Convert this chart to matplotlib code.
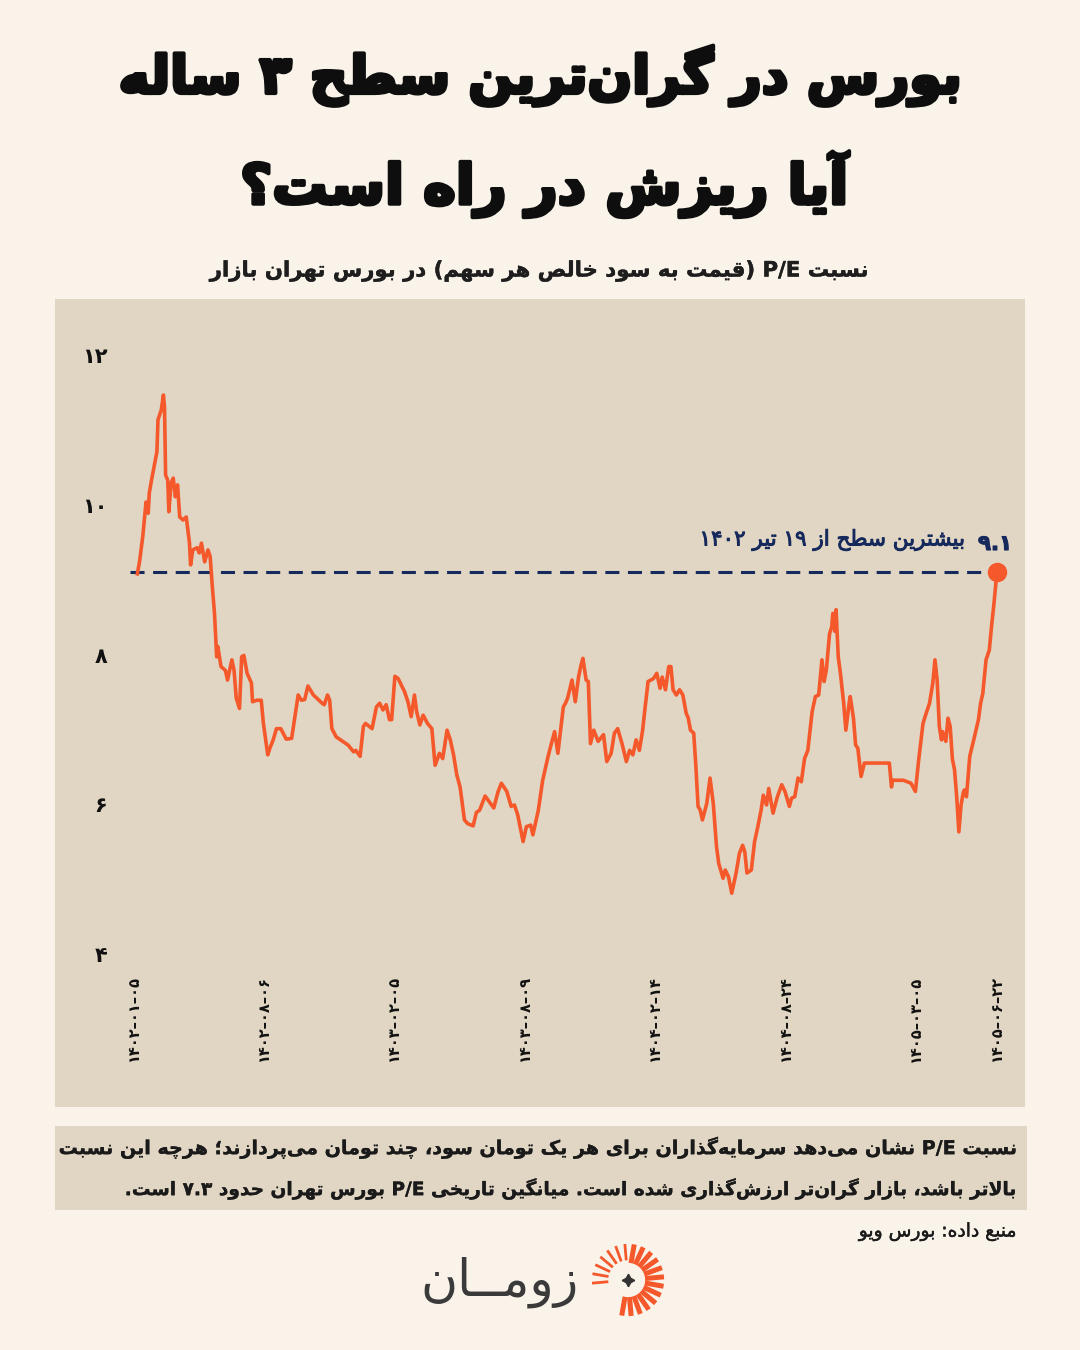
import matplotlib
matplotlib.use("Agg")
import matplotlib.pyplot as plt
import matplotlib.patheffects as pe
from matplotlib import font_manager as fm
from matplotlib.ft2font import FT2Font
from matplotlib.patches import Rectangle
import numpy as np

# ---------------- data ----------------
day = [4, 6, 9, 12, 14, 15, 17, 20, 22, 23, 26, 28, 29, 30, 32, 33, 35, 37, 39, 41,
       43, 46, 49, 52, 53, 55, 59, 61, 63, 66, 69, 71, 73, 75, 77, 78, 81, 85, 87, 91,
       93, 95, 98, 100, 102, 105, 109, 110, 114, 118, 120, 124, 126, 129, 132, 136, 141, 146, 152, 155,
       158, 161, 166, 169, 174, 176, 179, 181, 183, 187, 191, 195, 198, 203, 205, 209, 212, 214, 220, 224,
       227, 230, 233, 236, 238, 241, 244, 247, 250, 253, 256, 259, 261, 264, 267, 271, 275, 278, 282, 285,
       289, 292, 295, 298, 301, 305, 308, 313, 316, 319, 324, 328, 332, 336, 339, 344, 348, 351, 354, 359,
       362, 366, 368, 373, 377, 382, 385, 388, 391, 396, 398, 400, 404, 407, 410, 412, 414, 417, 419, 421,
       424, 428, 433, 436, 440, 443, 446, 450, 454, 457, 460, 463, 466, 469, 471, 474, 479, 482, 485, 487,
       490, 493, 495, 497, 500, 503, 506, 509, 511, 513, 516, 518, 520, 522, 524, 528, 531, 534, 537, 539,
       543, 545, 548, 551, 555, 558, 561, 563, 565, 569, 572, 575, 578, 580, 583, 585, 589, 593, 597, 600,
       604, 606, 609, 612, 615, 618, 621, 625, 628, 631, 634, 636, 638, 641, 643, 644, 646, 647, 649, 651,
       654, 656, 659, 660, 663, 665, 667, 670, 673, 696, 698, 699, 709, 716, 720, 723, 727, 730, 733, 736,
       738, 740, 742, 744, 745, 748, 750, 752, 754, 756, 758, 760, 762, 764, 765, 767, 770, 774, 778, 780,
       782, 785, 788, 790, 792, 794, 795]
pe_ratio = [9.08, 9.24, 9.58, 10.04, 9.89, 10.16, 10.33, 10.56, 10.71, 11.14, 11.27, 11.47, 11.31, 10.40, 10.33, 9.91, 10.29, 10.36, 10.11, 10.27,
            9.84, 9.80, 9.84, 9.49, 9.20, 9.40, 9.43, 9.36, 9.49, 9.24, 9.40, 9.31, 8.91, 8.55, 7.97, 8.11, 7.84, 7.79, 7.66, 7.93,
            7.79, 7.42, 7.28, 7.97, 7.99, 7.75, 7.62, 7.37, 7.39, 7.39, 7.08, 6.66, 6.75, 6.86, 7.01, 7.01, 6.87, 6.88, 7.46, 7.39,
            7.40, 7.58, 7.46, 7.42, 7.35, 7.33, 7.46, 7.39, 7.01, 6.90, 6.86, 6.82, 6.79, 6.70, 6.72, 6.64, 7.04, 7.08, 7.01, 7.30,
            7.35, 7.26, 7.33, 7.13, 7.13, 7.71, 7.68, 7.59, 7.50, 7.37, 7.17, 7.46, 7.24, 7.06, 7.19, 7.08, 7.01, 6.52, 6.68, 6.61,
            6.99, 6.86, 6.66, 6.39, 6.23, 5.79, 5.74, 5.71, 5.89, 5.92, 6.11, 6.03, 5.95, 6.17, 6.28, 6.17, 5.97, 5.99, 5.86, 5.50,
            5.70, 5.72, 5.59, 5.92, 6.32, 6.64, 6.81, 6.97, 6.68, 7.30, 7.35, 7.42, 7.66, 7.37, 7.70, 7.84, 7.95, 7.66, 7.64, 6.81,
            6.99, 6.84, 6.93, 6.57, 6.68, 6.95, 7.01, 6.81, 6.57, 6.72, 6.66, 6.86, 6.72, 6.99, 7.26, 7.64, 7.68, 7.75, 7.55, 7.70,
            7.53, 7.84, 7.84, 7.53, 7.46, 7.53, 7.46, 7.22, 7.15, 6.99, 6.95, 6.50, 5.97, 5.92, 5.79, 6.01, 6.35, 6.01, 5.43, 5.21,
            5.01, 5.12, 5.03, 4.81, 5.08, 5.34, 5.45, 5.36, 5.08, 5.12, 5.50, 5.70, 5.92, 6.12, 5.99, 6.21, 5.88, 6.10, 6.26, 6.17,
            5.97, 6.08, 6.10, 6.35, 6.30, 6.61, 6.72, 7.24, 7.44, 7.46, 7.93, 7.64, 7.79, 8.28, 8.37, 8.55, 8.31, 8.60, 7.97, 7.75,
            7.35, 6.99, 7.35, 7.44, 7.15, 6.79, 6.75, 6.37, 6.55, 6.55, 6.23, 6.32, 6.32, 6.28, 6.17, 6.59, 7.08, 7.22, 7.35, 7.62,
            7.93, 7.66, 7.04, 6.86, 6.97, 6.84, 7.15, 7.04, 6.61, 6.46, 6.10, 5.63, 5.99, 6.15, 6.19, 6.10, 6.64, 6.88, 7.13, 7.35,
            7.48, 7.93, 8.06, 8.37, 8.64, 8.95, 9.10]
peak_level = 9.1
peak_line_start = -3
y_ticks = [4, 6, 8, 10, 12]
y_tick_labels = ["۴", "۶", "۸", "۱۰", "۱۲"]
x_tick_days = [0, 120, 240, 360, 480, 600, 720, 795]
x_tick_labels = ["۱۴۰۲–۰۱–۰۵", "۱۴۰۲–۰۸–۰۶", "۱۴۰۳–۰۲–۰۵", "۱۴۰۳–۰۸–۰۹",
                 "۱۴۰۴–۰۲–۱۴", "۱۴۰۴–۰۸–۲۴", "۱۴۰۵–۰۳–۰۵", "۱۴۰۵–۰۶–۲۲"]

TITLE1 = "بورس در گران\u200cترین سطح ۳ ساله"
TITLE2 = "آیا ریزش در راه است؟"
SUBTITLE = "نسبت P/E (قیمت به سود خالص هر سهم) در بورس تهران بازار"
ANN_TEXT = "بیشترین سطح از ۱۹ تیر ۱۴۰۲"
ANN_VALUE = "۹.۱"
NOTE1 = "نسبت P/E نشان می\u200cدهد سرمایه\u200cگذاران برای هر یک تومان سود، چند تومان می\u200cپردازند؛ هرچه این نسبت"
NOTE2 = "بالاتر باشد، بازار گران\u200cتر ارزش\u200cگذاری شده است. میانگین تاریخی P/E بورس تهران حدود ۷.۳ است."
SOURCE = "منبع داده: بورس ویو"
LOGO = "زومــان"

# ---------------- minimal Persian shaping + bidi ----------------
FORMS = {
    '\u0622': ('\uFE81', '\uFE82'), '\u0623': ('\uFE83', '\uFE84'), '\u0624': ('\uFE85', '\uFE86'),
    '\u0625': ('\uFE87', '\uFE88'), '\u0626': ('\uFE89', '\uFE8A', '\uFE8B', '\uFE8C'),
    '\u0627': ('\uFE8D', '\uFE8E'), '\u0628': ('\uFE8F', '\uFE90', '\uFE91', '\uFE92'),
    '\u0629': ('\uFE93', '\uFE94'), '\u062A': ('\uFE95', '\uFE96', '\uFE97', '\uFE98'),
    '\u062B': ('\uFE99', '\uFE9A', '\uFE9B', '\uFE9C'), '\u062C': ('\uFE9D', '\uFE9E', '\uFE9F', '\uFEA0'),
    '\u062D': ('\uFEA1', '\uFEA2', '\uFEA3', '\uFEA4'), '\u062E': ('\uFEA5', '\uFEA6', '\uFEA7', '\uFEA8'),
    '\u062F': ('\uFEA9', '\uFEAA'), '\u0630': ('\uFEAB', '\uFEAC'), '\u0631': ('\uFEAD', '\uFEAE'),
    '\u0632': ('\uFEAF', '\uFEB0'), '\u0633': ('\uFEB1', '\uFEB2', '\uFEB3', '\uFEB4'),
    '\u0634': ('\uFEB5', '\uFEB6', '\uFEB7', '\uFEB8'), '\u0635': ('\uFEB9', '\uFEBA', '\uFEBB', '\uFEBC'),
    '\u0636': ('\uFEBD', '\uFEBE', '\uFEBF', '\uFEC0'), '\u0637': ('\uFEC1', '\uFEC2', '\uFEC3', '\uFEC4'),
    '\u0638': ('\uFEC5', '\uFEC6', '\uFEC7', '\uFEC8'), '\u0639': ('\uFEC9', '\uFECA', '\uFECB', '\uFECC'),
    '\u063A': ('\uFECD', '\uFECE', '\uFECF', '\uFED0'), '\u0641': ('\uFED1', '\uFED2', '\uFED3', '\uFED4'),
    '\u0642': ('\uFED5', '\uFED6', '\uFED7', '\uFED8'), '\u0643': ('\uFED9', '\uFEDA', '\uFEDB', '\uFEDC'),
    '\u0644': ('\uFEDD', '\uFEDE', '\uFEDF', '\uFEE0'), '\u0645': ('\uFEE1', '\uFEE2', '\uFEE3', '\uFEE4'),
    '\u0646': ('\uFEE5', '\uFEE6', '\uFEE7', '\uFEE8'), '\u0647': ('\uFEE9', '\uFEEA', '\uFEEB', '\uFEEC'),
    '\u0648': ('\uFEED', '\uFEEE'), '\u0649': ('\uFEEF', '\uFEF0'),
    '\u064A': ('\uFEF1', '\uFEF2', '\uFEF3', '\uFEF4'), '\u067E': ('\uFB56', '\uFB57', '\uFB58', '\uFB59'),
    '\u0686': ('\uFB7A', '\uFB7B', '\uFB7C', '\uFB7D'), '\u0698': ('\uFB8A', '\uFB8B'),
    '\u06A9': ('\uFB8E', '\uFB8F', '\uFB90', '\uFB91'), '\u06AF': ('\uFB92', '\uFB93', '\uFB94', '\uFB95'),
    '\u06CC': ('\uFBFC', '\uFBFD', '\uFBFE', '\uFBFF'),
}
LAMALEF = {'\u0627': ('\uFEFB', '\uFEFC'), '\u0622': ('\uFEF5', '\uFEF6'),
           '\u0623': ('\uFEF7', '\uFEF8'), '\u0625': ('\uFEF9', '\uFEFA')}
FALLBACK = {'\uFBFC': '\uFEEF', '\uFBFD': '\uFEF0', '\uFBFE': '\uFEF3', '\uFBFF': '\uFEF4',
            '\uFB8E': '\uFED9', '\uFB8F': '\uFEDA', '\uFB90': '\uFEDB', '\uFB91': '\uFEDC'}
MIRROR = {'(': ')', ')': '(', '[': ']', ']': '[', '«': '»', '»': '«'}


def _jt(c):
    if c == '\u0640':
        return 'D'
    f = FORMS.get(c)
    if f is None:
        return 'U'
    return 'D' if len(f) == 4 else 'R'


def shape(text):
    ch = list(text)
    n = len(ch)
    out = []
    i = 0
    while i < n:
        c = ch[i]
        t = _jt(c)
        if t == 'U':
            if c != '\u200c':
                out.append(c)
            i += 1
            continue
        join_prev = i > 0 and _jt(ch[i - 1]) == 'D'
        if c == '\u0644' and i + 1 < n and ch[i + 1] in LAMALEF:
            lig = LAMALEF[ch[i + 1]]
            out.append(lig[1] if join_prev else lig[0])
            i += 2
            continue
        join_next = t == 'D' and i + 1 < n and _jt(ch[i + 1]) in ('D', 'R')
        if c == '\u0640':
            out.append(c)
            i += 1
            continue
        f = FORMS[c]
        if join_prev and join_next:
            g = f[3]
        elif join_prev:
            g = f[1]
        elif join_next:
            g = f[2]
        else:
            g = f[0]
        out.append(g)
        i += 1
    return ''.join(out)


def _cls(c):
    o = ord(c)
    if c.isdigit():
        return 'L'
    if c.isascii() and c.isalpha():
        return 'L'
    if 0x0600 <= o <= 0x06FF or 0xFB50 <= o <= 0xFDFF or 0xFE70 <= o <= 0xFEFF:
        return 'R'
    return 'N'


def visual(s):
    cls = [_cls(c) for c in s]
    n = len(s)
    res = []
    for i, c in enumerate(cls):
        if c != 'N':
            res.append(c)
            continue
        p = next((cls[j] for j in range(i - 1, -1, -1) if cls[j] != 'N'), None)
        q = next((cls[j] for j in range(i + 1, n) if cls[j] != 'N'), None)
        res.append('L' if (p == 'L' and q == 'L') else 'R')
    segs = []
    for c, d in zip(s, res):
        if segs and segs[-1][0] == d:
            segs[-1][1].append(c)
        else:
            segs.append([d, [c]])
    out = []
    for d, chs in reversed(segs):
        if d == 'R':
            out.extend(MIRROR.get(c, c) for c in reversed(chs))
        else:
            out.extend(chs)
    return ''.join(out)


def cmap_for(weight):
    path = fm.findfont(fm.FontProperties(family='DejaVu Sans', weight=weight))
    return FT2Font(path).get_charmap()


CMAP = {'normal': cmap_for('normal'), 'bold': cmap_for('bold')}
NEEDED = '\uFB92\uFBFC\uFEB3\u06F1\u06F4\uFB56\uFB7C'
BOLD = 'bold' if all(ord(c) in CMAP['bold'] for c in NEEDED) else 'normal'


def fa(s, weight='normal'):
    shaped = shape(s)
    cm = CMAP[weight]
    shaped = ''.join(FALLBACK[c] if (ord(c) not in cm and c in FALLBACK) else c for c in shaped)
    return visual(shaped)


# ---------------- figure ----------------
W, H = 1080, 1350
BG = '#F9F3EA'
PANEL = '#E1D6C3'
ORANGE = '#F4582B'
NAVY = '#16295C'

plt.rcParams['font.family'] = ['DejaVu Sans']
fig = plt.figure(figsize=(10.8, 13.5), dpi=100)
fig.patch.set_facecolor(BG)

fig.patches.append(Rectangle((55 / W, 1 - 1107 / H), 970 / W, 808 / H, transform=fig.transFigure,
                             facecolor=PANEL, edgecolor='none', zorder=-5))
fig.patches.append(Rectangle((55 / W, 1 - 1210 / H), 972 / W, 84 / H, transform=fig.transFigure,
                             facecolor=PANEL, edgecolor='none', zorder=-5))

ax = fig.add_axes([120 / W, 1 - 960 / H, 890 / W, 630 / H])
ax.set_zorder(2)
ax.set_facecolor('none')
ax.set_xlim(-11.96, 807.05)
ax.set_ylim(3.917, 12.34)
for s in ax.spines.values():
    s.set_visible(False)

ax.plot([peak_line_start, day[-1]], [peak_level, peak_level], color=NAVY, lw=2.2,
        linestyle=(0, (4.6, 2.8)), solid_capstyle='butt', zorder=2)
ax.plot(day, pe_ratio, color=ORANGE, lw=2.6, solid_joinstyle='round', zorder=3)
ax.plot([day[-1]], [pe_ratio[-1]], 'o', color=ORANGE, markersize=13, zorder=4)

tick_w = BOLD
ax.set_yticks(y_ticks)
ax.set_yticklabels([fa(t, tick_w) for t in y_tick_labels], fontsize=15, fontweight=tick_w, color='#111111')
ax.set_xticks(x_tick_days)
ax.set_xticklabels([fa(t, tick_w) for t in x_tick_labels], rotation=90, fontsize=10.5,
                   fontweight=tick_w, color='#111111', va='top', ha='center')
ax.tick_params(axis='both', length=0)
ax.tick_params(axis='y', pad=9)
ax.tick_params(axis='x', pad=11)

# ---------------- texts ----------------
fits = []


def ftext(x, y, s, target_w=None, size=20, ha='center', color='#111111', weight='normal', stroke=0.0):
    t = fig.text(x / W, 1 - y / H, fa(s, weight), ha=ha, va='center', fontsize=size,
                 color=color, fontweight=weight, zorder=5)
    if stroke:
        t.set_path_effects([pe.Stroke(linewidth=stroke, foreground=color), pe.Normal()])
    if target_w:
        fits.append((t, target_w))
    return t


ftext(540, 76, TITLE1, target_w=844, size=44, weight=BOLD, color='#0E0E0E', stroke=2.8)
ftext(544, 184, TITLE2, target_w=608, size=44, weight=BOLD, color='#0E0E0E', stroke=2.8)
ftext(539, 271, SUBTITLE, target_w=654, size=16, weight=BOLD, color='#1E1E1E', stroke=0.3)
ftext(965, 540, ANN_TEXT, target_w=265, size=15, ha='right', weight='normal', color=NAVY, stroke=0.7)
ftext(1012, 544, ANN_VALUE, target_w=34, size=18, ha='right', weight=BOLD, color=NAVY, stroke=0.8)
ftext(1020, 1148, NOTE1, target_w=958, size=15, ha='right', weight=BOLD, color='#1A1A1A', stroke=0.2)
ftext(1020, 1189, NOTE2, target_w=890, size=15, ha='right', weight=BOLD, color='#1A1A1A', stroke=0.2)
ftext(1017, 1232, SOURCE, target_w=157, size=11, ha='right', weight='normal', color='#1A1A1A', stroke=0.3)
ftext(499, 1282, LOGO, target_w=158, size=30, weight='normal', color='#3A3A3A')

fig.canvas.draw()
r = fig.canvas.get_renderer()
for _ in range(2):
    for t, w in fits:
        bb = t.get_window_extent(renderer=r)
        if bb.width > 0:
            t.set_fontsize(t.get_fontsize() * w / bb.width)

# ---------------- logo icon ----------------
lax = fig.add_axes([590 / W, 1 - 1318 / H, 76 / W, 76 / H])
lax.set_xlim(-1, 1)
lax.set_ylim(-1, 1)
lax.axis('off')
angles = np.arange(-100, 196, 15)
for a in angles:
    rad = np.deg2rad(a)
    width = 3.6 if (a < 90) else 2.0
    r0 = 0.45 if a < 90 else 0.52
    lax.plot([r0 * np.cos(rad), 0.95 * np.cos(rad)], [r0 * np.sin(rad), 0.95 * np.sin(rad)],
             color=ORANGE, lw=width, solid_capstyle='butt')
lax.plot([0], [0], marker=(4, 1, 0), color='#333333', markersize=9)

fig.savefig('out.png', dpi=100, facecolor=BG)
